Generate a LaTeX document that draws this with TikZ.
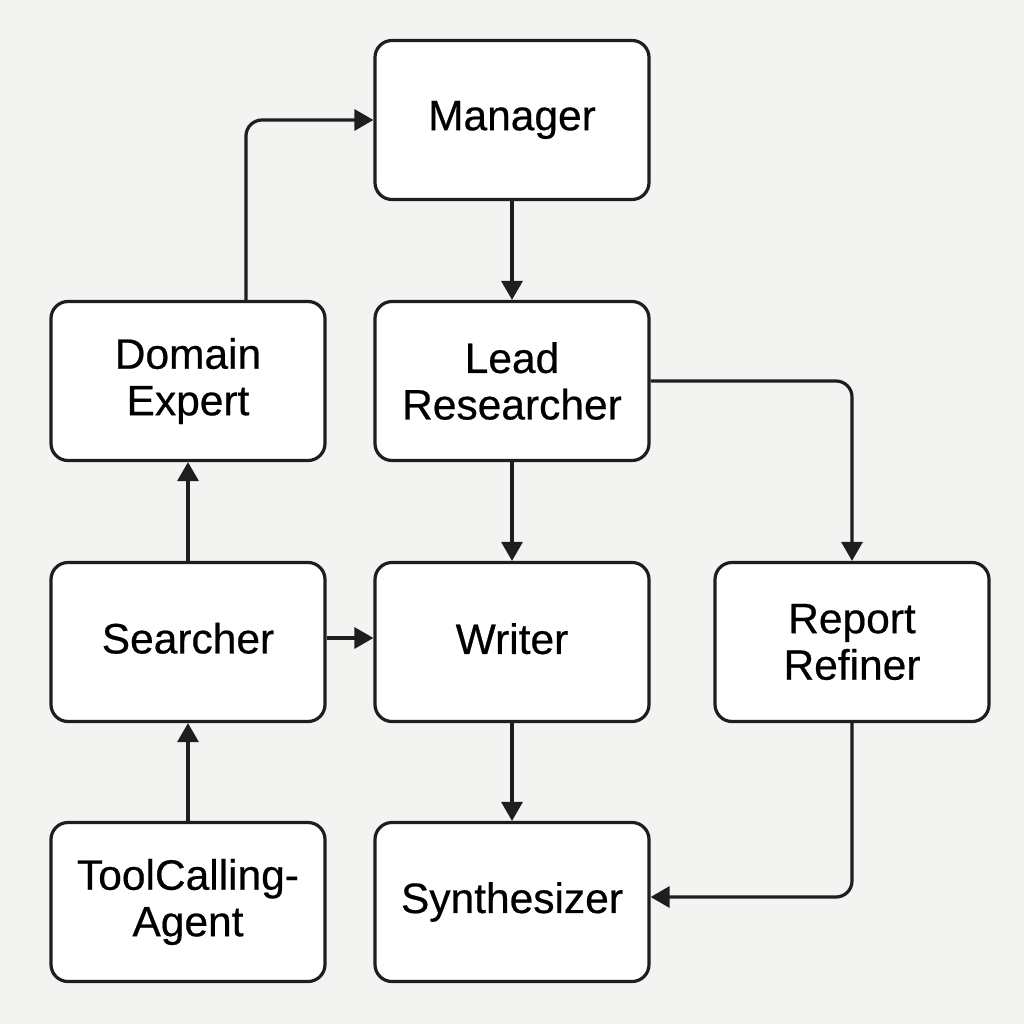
\documentclass[tikz,border=0pt]{standalone}
\usepackage{fontspec}
\setmainfont[FakeBold=0.5]{Liberation Sans}
\usetikzlibrary{arrows.meta}
\definecolor{bg}{HTML}{F3F3F1}
\definecolor{ink}{HTML}{1E1E1E}
\tikzset{
  box/.style={draw=ink, fill=white, line width=3.2pt, rounded corners=17pt,
    minimum width=274pt, minimum height=159pt, align=center,
    font=\fontsize{42.5}{46.5}\selectfont, text=black, inner sep=0pt},
  conn/.style={draw=ink, line width=3.2pt, rounded corners=16pt,
    -{Triangle[length=19pt,width=21pt]}}
}
\begin{document}
\begin{tikzpicture}[x=1pt,y=-1pt]
\fill[bg] (0,0) rectangle (1024,1024);
\useasboundingbox (0,0) rectangle (1024,1024);
\node[box] (mgr) at (512,120) {Manager};
\node[box] (de)  at (188,381) {Domain\\Expert};
\node[box] (lr)  at (512,381) {Lead\\Researcher};
\node[box] (se)  at (188,642) {\raisebox{8pt}{Searcher}};
\node[box] (wr)  at (512,642) {\raisebox{7pt}{Writer}};
\node[box] (rr)  at (852,642) {Report\\Refiner};
\node[box] (tc)  at (188,902) {ToolCalling-\\Agent};
\node[box] (syn) at (512,902) {\raisebox{4pt}{Synthesizer}};
\draw[conn] ([xshift=58pt]de.north) |- (mgr.west);
\draw[conn] (mgr.south) -- (lr.north);
\draw[conn] (lr.east) -| (rr.north);
\draw[conn] (lr.south) -- (wr.north);
\draw[conn] (se.north) -- (de.south);
\draw[conn] ([yshift=4pt]se.east) -- ([yshift=4pt]wr.west);
\draw[conn] (tc.north) -- (se.south);
\draw[conn] (wr.south) -- (syn.north);
\draw[conn] (rr.south) |- ([yshift=5pt]syn.east);
\end{tikzpicture}
\end{document}
